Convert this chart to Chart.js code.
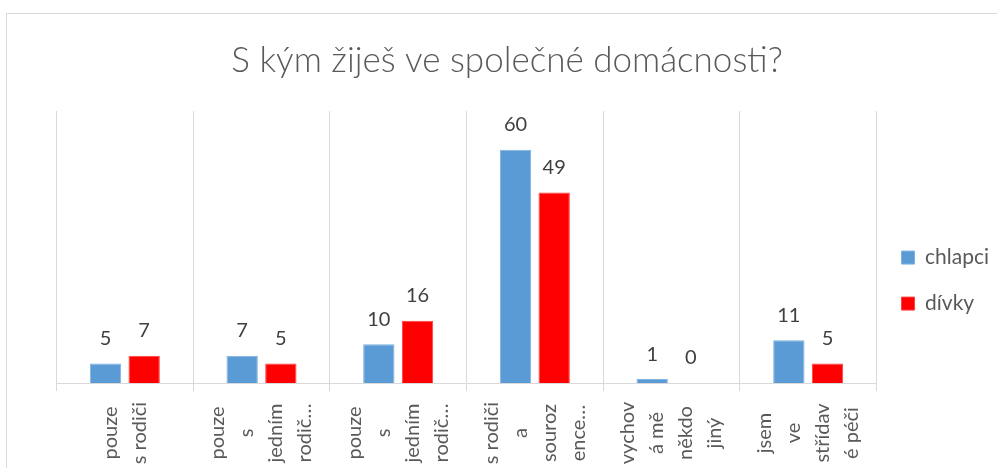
<!DOCTYPE html>
<html>
<head>
<meta charset="utf-8">
<script src="https://cdn.jsdelivr.net/npm/chart.js@4/dist/chart.umd.min.js"></script>
<style>
  html, body { margin: 0; padding: 0; background: #ffffff; }
  #wrap { width: 997px; height: 468px; position: relative; }
</style>
</head>
<body>
<div id="wrap"><canvas id="c" width="997" height="468"></canvas></div>
<script>
const titleText = "S kým žiješ ve společné domácnosti?";
const categories = [
  ["pouze", "s rodiči"],
  ["pouze", "s", "jedním", "rodič…"],
  ["pouze", "s", "jedním", "rodič…"],
  ["s rodiči", "a", "souroz", "ence…"],
  ["vychov", "á mě", "někdo", "jiný"],
  ["jsem", "ve", "střídav", "é péči"]
];
const seriesNames = ["chlapci", "dívky"];
const chlapci = [5, 7, 10, 60, 1, 11];
const divky = [7, 5, 16, 49, 0, 5];

const FONT = "Lato, 'Open Sans', sans-serif";

const borderPlugin = {
  id: 'outerBorder',
  beforeDraw(chart) {
    const ctx = chart.ctx;
    ctx.save();
    ctx.fillStyle = '#ffffff';
    ctx.fillRect(0, 0, chart.width, chart.height);
    ctx.strokeStyle = '#d9d9d9';
    ctx.lineWidth = 1;
    ctx.strokeRect(6.5, 13.5, 1200, 1000);
    ctx.restore();
  }
};

const valueLabels = {
  id: 'valueLabels',
  afterDatasetsDraw(chart) {
    const ctx = chart.ctx;
    ctx.save();
    ctx.font = "20px " + FONT;
    ctx.fillStyle = '#404040';
    ctx.textAlign = 'center';
    ctx.textBaseline = 'middle';
    chart.data.datasets.forEach((ds, di) => {
      const meta = chart.getDatasetMeta(di);
      meta.data.forEach((bar, i) => {
        ctx.fillText(String(ds.data[i]), bar.x, bar.y - 25);
      });
    });
    ctx.restore();
  }
};

const xLabels = {
  id: 'xLabels',
  afterDraw(chart) {
    const ctx = chart.ctx;
    const xs = chart.scales.x;
    const lh = 29;
    const cy = 433;
    ctx.save();
    ctx.font = "20px " + FONT;
    ctx.fillStyle = '#595959';
    ctx.textAlign = 'center';
    ctx.textBaseline = 'middle';
    chart.data.labels.forEach((lines, i) => {
      const x = xs.getPixelForValue(i);
      const n = lines.length;
      lines.forEach((t, j) => {
        const cx = x + (j - (n - 1) / 2) * lh;
        ctx.save();
        ctx.translate(cx, cy);
        ctx.rotate(-Math.PI / 2);
        ctx.fillText(t, 0, 0);
        ctx.restore();
      });
    });
    ctx.restore();
  }
};

new Chart(document.getElementById('c'), {
  type: 'bar',
  data: {
    labels: categories,
    datasets: [
      { label: seriesNames[0], data: chlapci, backgroundColor: '#5B9BD5',
        borderColor: '#7fb2e0', borderWidth: 1,
        categoryPercentage: 0.566, barPercentage: 0.81 },
      { label: seriesNames[1], data: divky, backgroundColor: '#FF0000',
        borderColor: '#ff4040', borderWidth: 1,
        categoryPercentage: 0.566, barPercentage: 0.81 }
    ]
  },
  options: {
    responsive: false,
    animation: false,
    devicePixelRatio: 1,
    layout: { padding: { left: 15, right: -2, top: 10, bottom: 0 } },
    plugins: {
      title: {
        display: true,
        text: titleText,
        color: '#595959',
        font: { family: FONT, size: 35, weight: '300' },
        padding: { top: 30, bottom: 29 }
      },
      legend: {
        display: true,
        position: 'right',
        align: 'center',
        title: { display: true, text: ' ', padding: 29, font: { size: 21 } },
        labels: {
          color: '#595959',
          font: { family: FONT, size: 21 },
          boxWidth: 13,
          boxHeight: 13,
          padding: 25
        }
      },
      tooltip: { enabled: false }
    },
    scales: {
      x: {
        grid: { color: '#d9d9d9', lineWidth: 1, offset: true, tickLength: 8, tickColor: '#d9d9d9' },
        border: { color: '#d9d9d9', width: 1 },
        ticks: { display: false },
        afterFit(s) { s.height = 85; }
      },
      y: {
        min: 0, max: 70,
        grid: { display: false },
        border: { display: false },
        ticks: { display: false },
        afterFit(s) { s.width = 41.5; }
      }
    }
  },
  plugins: [borderPlugin, valueLabels, xLabels]
});
</script>
</body>
</html>
